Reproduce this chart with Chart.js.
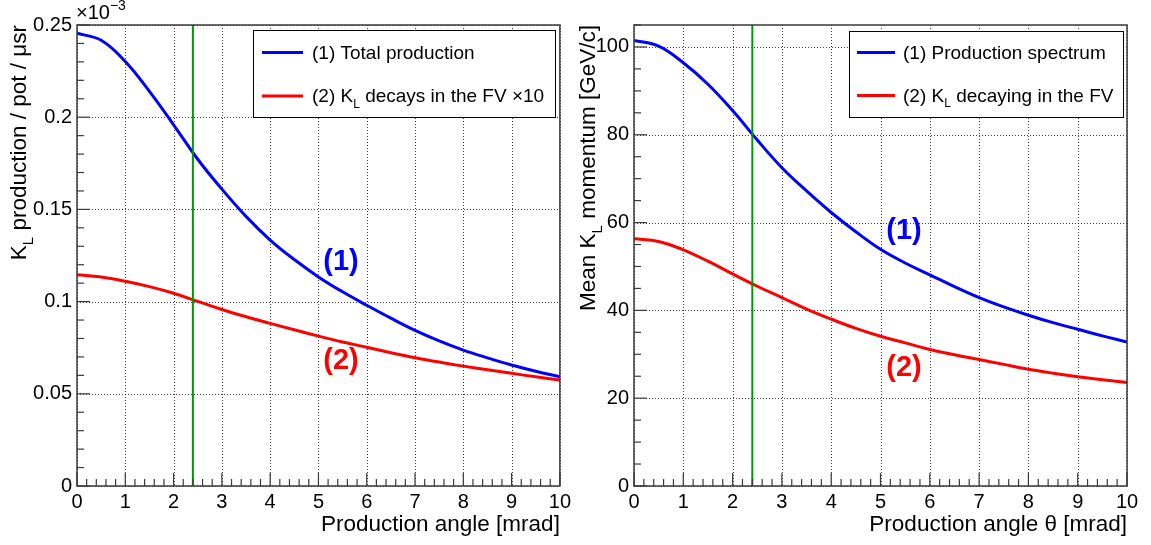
<!DOCTYPE html>
<html>
<head>
<meta charset="utf-8">
<script src="https://cdn.jsdelivr.net/npm/chart.js@4/dist/chart.umd.min.js"></script>
<style>
body { margin:0; background:#fff; width:1151px; height:545px; overflow:hidden; position:relative; }
canvas { position:absolute; top:0; }
</style>
</head>
<body>
<canvas id="left" width="575" height="545" style="left:0"></canvas>
<canvas id="right" width="576" height="545" style="left:575px"></canvas>
<script>
// values
const angle = [0, 0.5, 1, 1.5, 2, 2.5, 3, 3.5, 4, 4.5, 5, 5.5, 6, 6.5, 7, 7.5, 8, 8.5, 9, 9.5, 10]
// K_L production / pot / usr (x1e-3)
const totalProd = [0.2455, 0.2417, 0.2302, 0.214, 0.1959, 0.1772, 0.1610, 0.1462, 0.1334, 0.1228, 0.1134,
                   0.1053, 0.0980, 0.0910, 0.0844, 0.0787, 0.0737, 0.0695, 0.0656, 0.0622, 0.0592]
const decaysFV = [0.1145, 0.1133, 0.1110, 0.1081, 0.1045, 0.1001, 0.0957, 0.0918, 0.0882, 0.0847, 0.0813,
                  0.0781, 0.0752, 0.0723, 0.0696, 0.0672, 0.0650, 0.0630, 0.0611, 0.0592, 0.0575]
// mean K_L momentum [GeV/c]
const momProd = [101.5, 100.2, 96.4, 91.5, 85.5, 78.8, 72.5, 67.2, 62.3, 57.9, 53.9,
                 50.8, 48.1, 45.4, 42.9, 40.8, 38.9, 37.2, 35.7, 34.2, 32.8]
const momFV = [56.3, 55.7, 53.8, 51.2, 48.3, 45.5, 42.9, 40.3, 38.0, 35.9, 34.1,
               32.6, 31.1, 29.9, 28.8, 27.7, 26.6, 25.7, 24.9, 24.2, 23.6]
const cutAngle = 2.4

const xTicks = [0, 1, 2, 3, 4, 5, 6, 7, 8, 9, 10]
const leftYTicks = [0, 0.05, 0.1, 0.15, 0.2, 0.25]
const leftYLabels = ['0', '0.05', '0.1', '0.15', '0.2', '0.25']
const rightYTicks = [0, 20, 40, 60, 80, 100]
const rightYLabels = ['0', '20', '40', '60', '80', '100']

const FONT = '"Liberation Sans", Arial, Helvetica, sans-serif'
const BLUE = '#0000ff', RED = '#ff0000', GREEN = '#009a00', FRAME = '#3a3a3a'

// draw text with sub/superscripts
function rich(ctx, parts, x, y, size, align) {
  const segs = parts.map(p => {
    if (typeof p === 'string') return {t: p, f: size, dy: 0}
    if (p.sub) return {t: p.sub, f: Math.round(size * 0.65), dy: size * 0.3}
    return {t: p.sup, f: Math.round(size * 0.7), dy: -size * 0.45}
  })
  let w = 0
  segs.forEach(s => { ctx.font = s.f + 'px ' + FONT; s.w = ctx.measureText(s.t).width; w += s.w })
  let cx = align === 'right' ? x - w : align === 'center' ? x - w / 2 : x
  ctx.textAlign = 'left'
  ctx.textBaseline = 'alphabetic'
  segs.forEach(s => { ctx.font = s.f + 'px ' + FONT; ctx.fillText(s.t, cx, y + s.dy); cx += s.w })
}

function seg(ctx, x1, y1, x2, y2) {
  ctx.beginPath(); ctx.moveTo(x1, y1); ctx.lineTo(x2, y2); ctx.stroke()
}

const deco = {
  id: 'deco',
  beforeDatasetsDraw(chart, args, o) {
    const {ctx, chartArea: a, scales: {x, y}} = chart
    ctx.save()
    ctx.strokeStyle = 'rgba(0,0,0,0.75)'
    ctx.lineWidth = 1
    ctx.setLineDash([1, 2])
    xTicks.forEach(v => { const p = Math.round(x.getPixelForValue(v)) + 0.5; seg(ctx, p, a.top, p, a.bottom) })
    o.yTicks.forEach(v => { const p = Math.round(y.getPixelForValue(v)) + 0.5; seg(ctx, a.left, p, a.right, p) })
    ctx.restore()
  },
  afterDatasetsDraw(chart, args, o) {
    const {ctx, chartArea: a, scales: {x, y}} = chart
    ctx.save()
    // ticks inside the frame
    ctx.strokeStyle = FRAME
    ctx.lineWidth = 1.2
    for (let i = 0; i <= 50; i++) {
      const p = x.getPixelForValue(i * 0.2)
      seg(ctx, p, a.bottom, p, a.bottom - (i % 5 === 0 ? 13 : 7))
    }
    const n = Math.floor(o.yMax / o.yMinor + 1e-9)
    for (let i = 0; i <= n; i++) {
      const p = y.getPixelForValue(i * o.yMinor)
      seg(ctx, a.left, p, a.left + (i % o.yPerMajor === 0 ? 13 : 7), p)
    }
    // frame
    ctx.lineWidth = 1.5
    ctx.strokeRect(a.left, a.top, a.right - a.left, a.bottom - a.top)

    // legend
    const L = o.legend
    ctx.fillStyle = '#fff'
    ctx.fillRect(L.box[0], L.box[1], L.box[2] - L.box[0], L.box[3] - L.box[1])
    ctx.strokeStyle = '#000'
    ctx.lineWidth = 1
    ctx.strokeRect(L.box[0] + 0.5, L.box[1] + 0.5, L.box[2] - L.box[0], L.box[3] - L.box[1])
    L.items.forEach(it => {
      ctx.strokeStyle = it.color
      ctx.lineWidth = 3
      seg(ctx, L.lineX[0], it.y, L.lineX[1], it.y)
      ctx.fillStyle = '#000'
      rich(ctx, it.parts, L.textX, it.y + 6, 19, 'left')
    })

    // curve tags
    ctx.font = 'bold 29px ' + FONT
    ctx.textAlign = 'center'
    ctx.textBaseline = 'middle'
    o.tags.forEach(t => { ctx.fillStyle = t.color; ctx.fillText(t.text, t.x, t.y) })

    // axis titles
    ctx.fillStyle = '#000'
    rich(ctx, o.xTitle, a.right, 531, 22.5, 'right')
    ctx.save()
    ctx.translate(o.yTitleX, a.top)
    ctx.rotate(-Math.PI / 2)
    rich(ctx, o.yTitle, 0, 0, 22.5, 'right')
    ctx.restore()
    if (o.exponent) rich(ctx, ['\u00d710', {sup: '\u22123'}], a.left - 1, 19, 20, 'left')
    ctx.restore()
  }
}

function makeChart(id, series, yMax, yTicks, yLabels, yWidth, rightPad, extra) {
  const ds = series.map(s => ({
    label: s.label,
    data: angle.map((a, i) => ({x: a, y: s.values[i]})),
    borderColor: s.color,
    borderWidth: 3,
    pointRadius: 0,
    fill: false,
    tension: 0.4,
    order: 1
  }))
  ds.push({
    label: 'cut',
    data: [{x: cutAngle, y: 0}, {x: cutAngle, y: yMax}],
    borderColor: GREEN,
    borderWidth: 2,
    pointRadius: 0,
    order: 0
  })
  return new Chart(document.getElementById(id), {
    type: 'line',
    data: {datasets: ds},
    options: {
      responsive: false,
      animation: false,
      events: [],
      layout: {padding: {top: 25, right: rightPad, left: 0, bottom: 0}},
      plugins: {
        legend: {display: false},
        tooltip: {enabled: false},
        deco: Object.assign({yTicks: yTicks, yMax: yMax}, extra)
      },
      scales: {
        x: {
          type: 'linear', min: 0, max: 10,
          afterBuildTicks: s => { s.ticks = xTicks.map(v => ({value: v})) },
          afterFit: s => { s.height = 59 },
          grid: {display: false, drawTicks: false},
          border: {display: false},
          ticks: {autoSkip: false, maxRotation: 0, padding: 4, color: '#000', font: {family: FONT, size: 20}}
        },
        y: {
          type: 'linear', min: 0, max: yMax,
          afterBuildTicks: s => { s.ticks = yTicks.map(v => ({value: v})) },
          afterFit: s => { s.width = yWidth },
          grid: {display: false, drawTicks: false},
          border: {display: false},
          ticks: {
            autoSkip: false, padding: 5, color: '#000', font: {family: FONT, size: 20},
            callback: (v) => yLabels[yTicks.indexOf(v)]
          }
        }
      }
    },
    plugins: [deco]
  })
}

makeChart('left', [
  {label: '(1) Total production', values: totalProd, color: BLUE},
  {label: '(2) K_L decays in the FV x10', values: decaysFV, color: RED}
], 0.25, leftYTicks, leftYLabels, 77, 14, {
  yMinor: 0.01, yPerMajor: 5, exponent: true,
  yTitleX: 26,
  yTitle: ['K', {sub: 'L'}, ' production / pot / \u03bcsr'],
  xTitle: ['Production angle [mrad]'],
  legend: {
    box: [253, 30, 555, 117], lineX: [262, 303], textX: 312,
    items: [
      {color: BLUE, y: 52.5, parts: ['(1) Total production']},
      {color: RED, y: 96, parts: ['(2) K', {sub: 'L'}, ' decays in the FV \u00d710']}
    ]
  },
  tags: [
    {text: '(1)', color: BLUE, x: 341, y: 262},
    {text: '(2)', color: RED, x: 341, y: 361}
  ]
})

makeChart('right', [
  {label: '(1) Production spectrum', values: momProd, color: BLUE},
  {label: '(2) K_L decaying in the FV', values: momFV, color: RED}
], 105, rightYTicks, rightYLabels, 59, 24, {
  yMinor: 5, yPerMajor: 4, exponent: false,
  yTitleX: 20,
  yTitle: ['Mean K', {sub: 'L'}, ' momentum [GeV/c]'],
  xTitle: ['Production angle \u03b8 [mrad]'],
  legend: {
    box: [274, 31, 548, 117], lineX: [282, 320], textX: 328,
    items: [
      {color: BLUE, y: 52.5, parts: ['(1) Production spectrum']},
      {color: RED, y: 95.5, parts: ['(2) K', {sub: 'L'}, ' decaying in the FV']}
    ]
  },
  tags: [
    {text: '(1)', color: BLUE, x: 329, y: 231},
    {text: '(2)', color: RED, x: 329, y: 368}
  ]
})
</script>
</body>
</html>
